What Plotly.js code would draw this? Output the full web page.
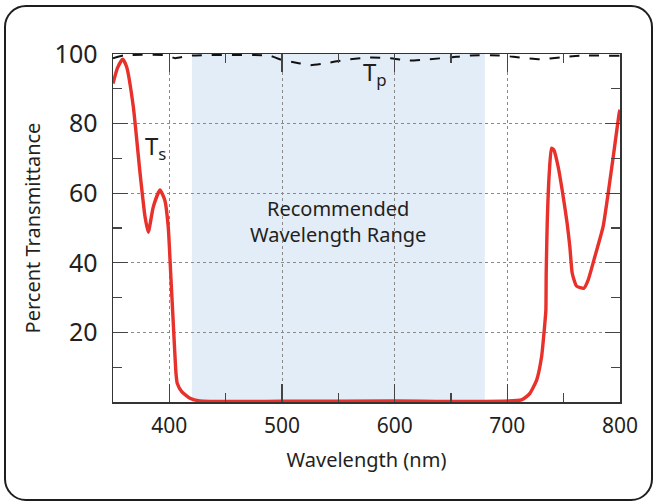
<!DOCTYPE html>
<html>
<head>
<meta charset="utf-8">
<script src="https://cdn.plot.ly/plotly-3.0.1.min.js"></script>
<style>
  html, body { margin: 0; padding: 0; background: #ffffff; }
  #wrap { position: relative; width: 654px; height: 501px; overflow: hidden; }
  #chart { position: absolute; left: 0; top: 0; width: 654px; height: 501px; }
  #frame { position: absolute; left: 4px; top: 5px; width: 649px; height: 496px; box-sizing: border-box;
           border: 2px solid #1e1e1e; border-radius: 22px; pointer-events: none; }
</style>
</head>
<body>
<div id="wrap">
  <div id="chart"></div>
  <div id="frame"></div>
</div>
<script>
// Ts (s-polarised) transmittance, nm vs %
const tsWavelength = [350, 354, 358.6, 362, 368, 374, 378.4, 381.3, 385.8, 391.7, 396, 399, 401.2, 403.5, 405.9, 407, 411, 418.3, 427, 500, 600, 712.6, 720, 726, 730.4, 733.3, 734.2, 734.5, 735.4, 737.2, 739.2, 741.3, 745.1, 749.6, 753.1, 755.5, 757.6, 761.5, 768, 771.7, 777.7, 785, 789.5, 794, 799.3, 800];
const tsPercent    = [91.5, 96, 98.5, 96.4, 84.9, 65.8, 53.3, 48.8, 56.1, 60.9, 58, 50.4, 37, 22.6, 8.3, 5.4, 3, 1.1, 0.3, 0.2, 0.3, 0.6, 2.5, 6.3, 13, 22.6, 26.4, 37, 51.4, 65.7, 72.9, 72.4, 67.6, 59, 51.3, 44.6, 37, 33.3, 32.7, 35, 41.8, 50.4, 60, 70.5, 83, 84];

// Tp (p-polarised) transmittance
const tpWavelength = [350, 360, 398, 405, 418, 489, 498, 516, 525, 538, 556, 578, 596, 613, 631, 649, 667, 693, 711, 729, 747, 764, 800];
const tpPercent    = [98.8, 99.6, 99.6, 98.8, 99.5, 99.5, 98.5, 97.3, 96.8, 97.3, 98.3, 99.0, 98.8, 98.1, 98.5, 99.0, 99.6, 99.6, 99.0, 98.5, 99.0, 99.5, 99.5];

// Recommended wavelength range (nm)
const recommendedRange = [420, 680];

const xTickVals = [400, 500, 600, 700, 800];
const xTickText = ['400', '500', '600', '700', '800'];
const yTickVals = [20, 40, 60, 80, 100];
const yTickText = ['20', '40', '60', '80', '100'];

const FONT = 'Noto Sans, Liberation Sans, Arial, sans-serif';
const TXT = '#231f20';

const traces = [
  {
    x: tpWavelength, y: tpPercent, type: 'scatter', mode: 'lines', name: 'Tp',
    line: { color: '#111111', width: 2, dash: '10px,10px', shape: 'spline', smoothing: 0.6 },
    cliponaxis: true, hoverinfo: 'skip'
  },
  {
    x: tsWavelength, y: tsPercent, type: 'scatter', mode: 'lines', name: 'Ts',
    line: { color: '#e8312a', width: 3.4, shape: 'spline', smoothing: 0.5 },
    cliponaxis: true, hoverinfo: 'skip'
  }
];

const axisCommon = {
  showline: true, linecolor: '#333333', linewidth: 1.5, mirror: 'ticks',
  ticks: 'inside', tickcolor: '#444444', tickwidth: 1.3,
  showgrid: true, gridcolor: '#8a8a8a', gridwidth: 1, griddash: '3px,3px',
  zeroline: false, fixedrange: true
};

const layout = {
  width: 654, height: 501,
  margin: { l: 113, r: 34, t: 54, b: 99, pad: 0 },
  paper_bgcolor: 'rgba(0,0,0,0)', plot_bgcolor: '#ffffff',
  showlegend: false,
  font: { family: FONT, color: TXT },
  xaxis: Object.assign({}, axisCommon, {
    range: [350, 800],
    tickmode: 'array', tickvals: xTickVals, ticktext: xTickText,
    ticklen: 18,
    minor: { dtick: 50, tick0: 350, ticklen: 9, ticks: 'inside', tickcolor: '#444444', tickwidth: 1.3, showgrid: false },
    tickfont: { family: FONT, size: 21, color: TXT },
    ticklabelstandoff: 4,
    title: { text: 'Wavelength (nm)', font: { family: FONT, size: 20, color: TXT }, standoff: 15 }
  }),
  yaxis: Object.assign({}, axisCommon, {
    range: [0, 100],
    tickmode: 'array', tickvals: yTickVals, ticktext: yTickText,
    ticklen: 15,
    minor: { dtick: 10, tick0: 0, ticklen: 9, ticks: 'inside', tickcolor: '#444444', tickwidth: 1.3, showgrid: false },
    tickfont: { family: FONT, size: 25, color: TXT },
    ticklabelstandoff: 9,
    title: { text: 'Percent Transmittance', font: { family: FONT, size: 20, color: TXT }, standoff: 8 }
  }),
  shapes: [
    {
      type: 'rect', xref: 'x', yref: 'paper',
      x0: recommendedRange[0], x1: recommendedRange[1], y0: 0, y1: 1,
      fillcolor: '#e3edf8', line: { width: 0 }, layer: 'below'
    }
  ],
  annotations: [
    {
      x: 549.6, y: 51.8, xref: 'x', yref: 'y', showarrow: false,
      text: 'Recommended<br>Wavelength Range',
      font: { family: FONT, size: 20, color: TXT }, align: 'center'
    },
    {
      x: 388, y: 73.3, xref: 'x', yref: 'y', showarrow: false,
      text: 'T<sub>s</sub>', font: { family: FONT, size: 24, color: TXT }
    },
    {
      x: 582.5, y: 94.5, xref: 'x', yref: 'y', showarrow: false,
      text: 'T<sub>p</sub>', font: { family: FONT, size: 24, color: TXT }
    }
  ]
};

Plotly.newPlot('chart', traces, layout, { staticPlot: true, displayModeBar: false });
</script>
</body>
</html>
